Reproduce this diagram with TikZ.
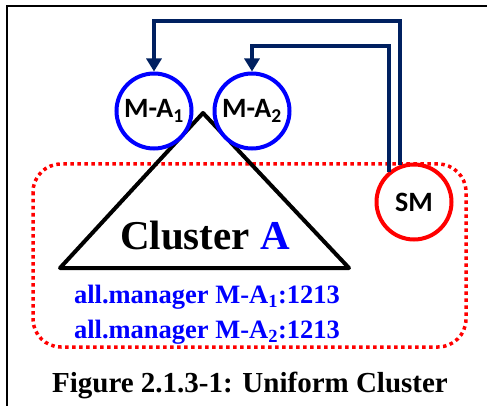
\documentclass[tikz,border=0pt]{standalone}
\usepackage{fontspec}
\setmainfont{Liberation Serif}
\newfontfamily\labelfont{Carlito}
\usetikzlibrary{arrows.meta,calc}
\definecolor{navy}{RGB}{0,32,96}

\begin{document}
\begin{tikzpicture}[
   x=1pt,y=-1pt,
   mgr/.style={circle,draw=blue,line width=4pt,fill=white,minimum size=75pt,inner sep=0pt,
      font=\labelfont\bfseries\fontsize{28}{28}\selectfont},
   svr/.style={mgr,draw=red},
   link/.style={-{Triangle[width=15pt,length=13pt]},line width=4pt,draw=navy},
   region/.style={draw=red,line width=3.5pt,dash pattern=on 3.5pt off 3.5pt,rounded corners=28pt},
   tri/.style={draw=black,line width=4pt,line join=round},
   info/.style={text=blue,font=\bfseries\fontsize{26.5}{26.5}\selectfont},
   every node/.style={inner sep=0pt}]
\useasboundingbox (0,0) rectangle (487,406);
\draw[line width=1.5pt] (7,406) -- (7,6) -- (487,6);
% cluster
\draw[region] (33,164) rectangle (466,347);
\coordinate (apex) at (203,113);
\coordinate (bl) at (60,268);
\coordinate (br) at (349,268);
\draw[tri] (bl) -- (apex) -- (br) -- cycle;
\node (cname) at (205,236) {\bfseries\fontsize{41}{41}\selectfont Cluster \textcolor{blue}{A}};
% managers
\node[mgr] (ma1) at (154,111) {M-A\textsubscript{1}};
\node[mgr] (ma2) at (252,111) {M-A\textsubscript{2}};
\node[svr] (sm) at (414,202) {SM};
\draw[link] (sm.110) -- ++(0,-144) -| (ma1.north);
\draw[link] (sm.130) -- ++(0,-126) -| (ma2.north);
\node[info] (l1) at (207,297) {all.manager M-A\textsubscript{1}:1213};
\node[info] (l2) at (207,332) {all.manager M-A\textsubscript{2}:1213};
\node (cap) at (250,385) {\bfseries\fontsize{29}{29}\selectfont Figure 2.1.3-1: Uniform Cluster};
\end{tikzpicture}
\end{document}
